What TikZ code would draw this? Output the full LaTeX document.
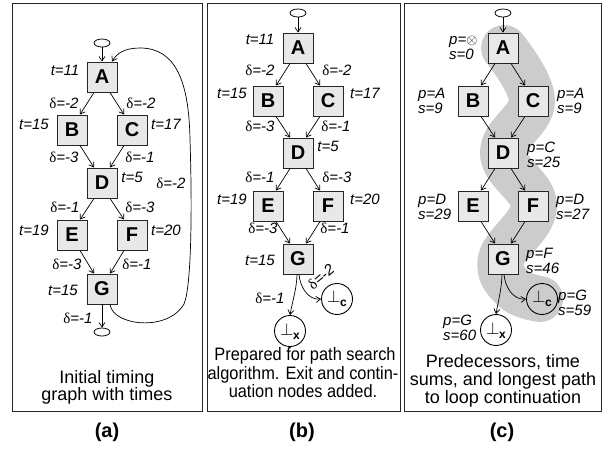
\documentclass[tikz,border=0pt]{standalone}
\usepackage{fontspec}
\setmainfont{Liberation Sans}
\newfontfamily\serifd{Liberation Serif}
\newfontfamily\capnarrow{Liberation Sans}[FakeStretch=0.91]
\usetikzlibrary{arrows.meta,shapes.geometric}
\newcommand\dlt{{\serifd\upshape δ}}
\newcommand\botx[1]{{\fontsize{19}{19}\selectfont$\perp$}\kern-0.5pt\raisebox{-4pt}{\fontsize{12}{12}\selectfont\bfseries #1}}
\tikzset{
  box/.style={draw=black!85, fill=black!9, minimum size=30pt, inner sep=0pt, line width=0.9pt, font=\fontsize{20}{20}\selectfont\bfseries},
  term/.style={draw, ellipse, minimum width=16pt, minimum height=8pt, inner sep=0pt, line width=0.8pt},
  endc/.style={draw, circle, minimum size=31pt, inner sep=0pt, line width=0.9pt},
  lbl/.style={font=\fontsize{15}{15}\selectfont\itshape, inner sep=0pt},
  plbl/.style={font=\fontsize{15}{15}\selectfont\itshape, inner sep=0pt, align=left, anchor=west},
  arr/.style={-{Straight Barb[length=4.5pt,width=6pt]}, line width=0.7pt},
  panelframe/.style={draw=black!85, line width=1pt},
  captxt/.style={font=\fontsize{18}{18}\selectfont, inner sep=0pt, anchor=base},
  narrowtxt/.style={font=\fontsize{18}{18}\selectfont\capnarrow, inner sep=0pt, anchor=base},
  plabel/.style={font=\fontsize{20}{20}\selectfont\bfseries, inner sep=0pt},
  band/.style={draw=black!20, line width=46pt, line cap=round, line join=round}
}
\begin{document}
\begin{tikzpicture}[x=1pt,y=-1pt]
\useasboundingbox (0,0) rectangle (610,448);
% frames
\draw[panelframe] (12,3) rectangle (202,411);
\draw[panelframe] (207,3) rectangle (400,411);
\draw[panelframe] (404,3) rectangle (601,411);

% ---------------- panel (a)
\node[term] (a0) at (102,43) {};
\node[box] (aA) at (102,77) {A};
\node[box] (aB) at (72,130) {B};
\node[box] (aC) at (132,130) {C};
\node[box] (aD) at (102,183) {D};
\node[box] (aE) at (72,235) {E};
\node[box] (aF) at (132,235) {F};
\node[box] (aG) at (102,289) {G};
\node[term] (a9) at (102,332) {};
\draw[arr] (a0.south) -- (aA.north);
\draw[arr] ([xshift=-8pt]aA.south) -- ([xshift=8pt]aB.north);
\draw[arr] ([xshift=8pt]aA.south) -- ([xshift=-8pt]aC.north);
\draw[arr] ([xshift=8pt]aB.south) -- ([xshift=-8pt]aD.north);
\draw[arr] ([xshift=-8pt]aC.south) -- ([xshift=8pt]aD.north);
\draw[arr] ([xshift=-8pt]aD.south) -- ([xshift=8pt]aE.north);
\draw[arr] ([xshift=8pt]aD.south) -- ([xshift=-8pt]aF.north);
\draw[arr] ([xshift=8pt]aE.south) -- ([xshift=-8pt]aG.north);
\draw[arr] ([xshift=-8pt]aF.south) -- ([xshift=8pt]aG.north);
\draw[arr] (aG.south) -- (a9.north);
\draw[arr] ([xshift=8pt]aG.south) .. controls (113,326) and (168,332) .. (184,304)
  .. controls (192,285) and (192,200) .. (190,140)
  .. controls (189,80) and (175,48) .. (140,48)
  .. controls (125,48) and (117,53) .. ([xshift=10pt]aA.north);
\node[lbl] (ta1) at (65,70) {t=11};
\node[lbl] (da1) at (64,103) {\dlt=-2};
\node[lbl] (da2) at (141,103) {\dlt=-2};
\node[lbl] (ta2) at (34,124) {t=15};
\node[lbl] (ta3) at (166,124) {t=17};
\node[lbl] (da3) at (64,157) {\dlt=-3};
\node[lbl] (da4) at (140,157) {\dlt=-1};
\node[lbl] (ta4) at (132,177) {t=5};
\node[lbl] (da5) at (171,183) {\dlt=-2};
\node[lbl] (da6) at (65,207) {\dlt=-1};
\node[lbl] (da7) at (140,207) {\dlt=-3};
\node[lbl] (ta5) at (34,230) {t=19};
\node[lbl] (ta6) at (166,230) {t=20};
\node[lbl] (da8) at (67,264) {\dlt=-3};
\node[lbl] (da9) at (137,264) {\dlt=-1};
\node[lbl] (ta7) at (63,290) {t=15};
\node[lbl] (da10) at (78,318) {\dlt=-1};
\node[captxt] (capa1) at (107,383) {Initial timing};
\node[captxt] (capa2) at (107,400) {graph with times};
\node[plabel] (pla) at (107,432) {(a)};

% ---------------- panel (b)
\node[term] (b0) at (298,13) {};
\node[box] (bA) at (298,48) {A};
\node[box] (bB) at (268,101) {B};
\node[box] (bC) at (328,101) {C};
\node[box] (bD) at (298,153) {D};
\node[box] (bE) at (268,206) {E};
\node[box] (bF) at (328,206) {F};
\node[box] (bG) at (298,259) {G};
\node[endc] (bX) at (290,331) {\botx{x}};
\node[endc] (bK) at (337,299) {\botx{c}};
\draw[arr] (b0.south) -- (bA.north);
\draw[arr] ([xshift=-8pt]bA.south) -- ([xshift=8pt]bB.north);
\draw[arr] ([xshift=8pt]bA.south) -- ([xshift=-8pt]bC.north);
\draw[arr] ([xshift=8pt]bB.south) -- ([xshift=-8pt]bD.north);
\draw[arr] ([xshift=-8pt]bC.south) -- ([xshift=8pt]bD.north);
\draw[arr] ([xshift=-8pt]bD.south) -- ([xshift=8pt]bE.north);
\draw[arr] ([xshift=8pt]bD.south) -- ([xshift=-8pt]bF.north);
\draw[arr] ([xshift=8pt]bE.south) -- ([xshift=-8pt]bG.north);
\draw[arr] ([xshift=-8pt]bF.south) -- ([xshift=8pt]bG.north);
\draw[arr] ([xshift=-1pt]bG.south) to[out=-92,in=80] (bX.north);
\draw[arr] ([xshift=1pt]bG.south) to[out=-85,in=185] (bK.west);
\node[lbl] (tb1) at (260,39) {t=11};
\node[lbl] (db1) at (260,70) {\dlt=-2};
\node[lbl] (db2) at (337,70) {\dlt=-2};
\node[lbl] (tb2) at (232,93) {t=15};
\node[lbl] (tb3) at (365,93) {t=17};
\node[lbl] (db3) at (260,126) {\dlt=-3};
\node[lbl] (db4) at (336,126) {\dlt=-1};
\node[lbl] (tb4) at (328,146) {t=5};
\node[lbl] (db5) at (260,177) {\dlt=-1};
\node[lbl] (db6) at (337,177) {\dlt=-3};
\node[lbl] (tb5) at (232,199) {t=19};
\node[lbl] (tb6) at (365,199) {t=20};
\node[lbl] (db7) at (263,228) {\dlt=-3};
\node[lbl] (db8) at (335,228) {\dlt=-1};
\node[lbl] (tb7) at (260,260) {t=15};
\node[lbl] (db9) at (270,298) {\dlt=-1};
\node[lbl, rotate=40] (db10) at (321,277) {\dlt=-2};
\node[narrowtxt] (capb1) at (305,360) {Prepared for path search};
\node[narrowtxt] (capb2) at (303,379) {algorithm. Exit and contin-};
\node[narrowtxt] (capb3) at (303,397) {uation nodes added.};
\node[plabel] (plb) at (302,432) {(b)};

% ---------------- panel (c)
\draw[band] plot[smooth, tension=0.65] coordinates {(504,48) (532,101) (503,153) (534,206) (501,259) (514,289) (540,299)};
\node[term] (c0) at (503,13) {};
\node[box] (cA) at (503,48) {A};
\node[box] (cB) at (473,101) {B};
\node[box] (cC) at (533,101) {C};
\node[box] (cD) at (503,153) {D};
\node[box] (cE) at (473,206) {E};
\node[box] (cF) at (533,206) {F};
\node[box] (cG) at (503,259) {G};
\node[endc] (cX) at (496,330) {\botx{x}};
\node[endc] (cK) at (542,299) {\botx{c}};
\draw[arr] (c0.south) -- (cA.north);
\draw[arr] ([xshift=-8pt]cA.south) -- ([xshift=8pt]cB.north);
\draw[arr] ([xshift=8pt]cA.south) -- ([xshift=-8pt]cC.north);
\draw[arr] ([xshift=8pt]cB.south) -- ([xshift=-8pt]cD.north);
\draw[arr] ([xshift=-8pt]cC.south) -- ([xshift=8pt]cD.north);
\draw[arr] ([xshift=-8pt]cD.south) -- ([xshift=8pt]cE.north);
\draw[arr] ([xshift=8pt]cD.south) -- ([xshift=-8pt]cF.north);
\draw[arr] ([xshift=8pt]cE.south) -- ([xshift=-8pt]cG.north);
\draw[arr] ([xshift=-8pt]cF.south) -- ([xshift=8pt]cG.north);
\draw[arr] ([xshift=-1pt]cG.south) to[out=-92,in=80] (cX.north);
\draw[arr] ([xshift=1pt]cG.south) to[out=-85,in=185] (cK.west);
\node[plbl] (pc1) at (449,48) {p=$\otimes$\\s=0};
\node[plbl] (pc2) at (418,100.5) {p=A\\s=9};
\node[plbl] (pc3) at (557,100.5) {p=A\\s=9};
\node[plbl] (pc4) at (527,154.5) {p=C\\s=25};
\node[plbl] (pc5) at (418,206.5) {p=D\\s=29};
\node[plbl] (pc6) at (556,206.5) {p=D\\s=27};
\node[plbl] (pc7) at (526,260.5) {p=F\\s=46};
\node[plbl] (pc8) at (558,302.5) {p=G\\s=59};
\node[plbl] (pc9) at (443,327.5) {p=G\\s=60};
\node[captxt] (capc1) at (503,367) {Predecessors, time};
\node[captxt] (capc2) at (503,385) {sums, and longest path};
\node[captxt] (capc3) at (503,403) {to loop continuation};
\node[plabel] (plc) at (502,432) {(c)};
\end{tikzpicture}
\end{document}
